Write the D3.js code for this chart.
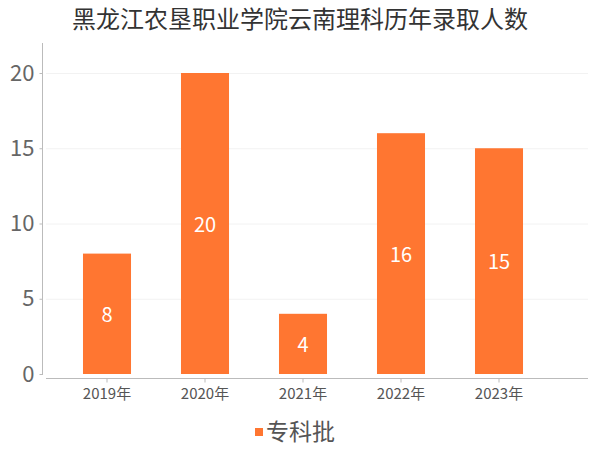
<!DOCTYPE html>
<html><head><meta charset="utf-8">
<script src="https://cdn.jsdelivr.net/npm/d3@7"></script>
<style>body{margin:0;background:#fff}</style>
</head><body><svg id="c" width="600" height="450"></svg>
<script>
const title = "黑龙江农垦职业学院云南理科历年录取人数";
const categories = ["2019年","2020年","2021年","2022年","2023年"];
const values = [8,20,4,16,15];
const yTicks = [0,5,10,15,20];
const seriesName = "专科批";
const color = "#FF7631";
const font = "'Noto Sans CJK SC','Noto Sans',sans-serif";

const svg = d3.select("#c");
const x = d3.scaleBand().domain(categories).range([58,548]).paddingInner(0.51).paddingOuter(0.255);
const y = d3.scaleLinear().domain([0,20]).range([374,73]);

svg.append("text").attr("x",300).attr("y",20).attr("dy","0.35em").attr("text-anchor","middle")
  .attr("font-family",font).attr("font-size",24).attr("fill","#333").text(title);

// grid
svg.append("g").selectAll("line").data(yTicks.filter(d=>d>0)).join("line")
  .attr("x1",46).attr("x2",588).attr("y1",d=>y(d)+0.5).attr("y2",d=>y(d)+0.5)
  .attr("stroke","#f2f2f2").attr("stroke-width",1);

// y axis
const ya = svg.append("g").attr("transform","translate(42.5,0)")
  .call(d3.axisLeft(y).tickValues(yTicks).tickSize(3).tickPadding(5));
ya.select(".domain").remove();
ya.append("line").attr("x1",0).attr("x2",0).attr("y1",43).attr("y2",375).attr("stroke","#bbb");
ya.selectAll(".tick line").attr("stroke","#bbb");
ya.selectAll("text").attr("font-family",font).attr("font-size",22).attr("fill","#666");

// bars
svg.append("g").selectAll("rect").data(values).join("rect")
  .attr("x",(d,i)=>x(categories[i])).attr("width",x.bandwidth())
  .attr("y",d=>y(d)).attr("height",d=>y(0)-y(d)).attr("fill",color);

svg.append("g").selectAll("text").data(values).join("text")
  .attr("x",(d,i)=>x(categories[i])+x.bandwidth()/2)
  .attr("y",d=>(y(d)+y(0))/2+1).attr("dy","0.35em").attr("text-anchor","middle")
  .attr("font-family",font).attr("font-size",20).attr("fill","#fff").text(d=>d);

// x axis
const xa = svg.append("g").attr("transform","translate(0,378.5)")
  .call(d3.axisBottom(x).tickSize(4).tickPadding(6));
xa.select(".domain").remove();
xa.append("line").attr("x1",46).attr("x2",588).attr("stroke","#bbb");
xa.selectAll(".tick line").attr("stroke","#bbb");
xa.selectAll("text").attr("font-family",font).attr("font-size",15).attr("fill","#555");

// legend
svg.append("rect").attr("x",255).attr("y",428).attr("width",8).attr("height",8).attr("fill",color);
svg.append("text").attr("x",266).attr("y",432).attr("dy","0.35em")
  .attr("font-family",font).attr("font-size",23).attr("fill","#555").text(seriesName);
</script></body></html>
